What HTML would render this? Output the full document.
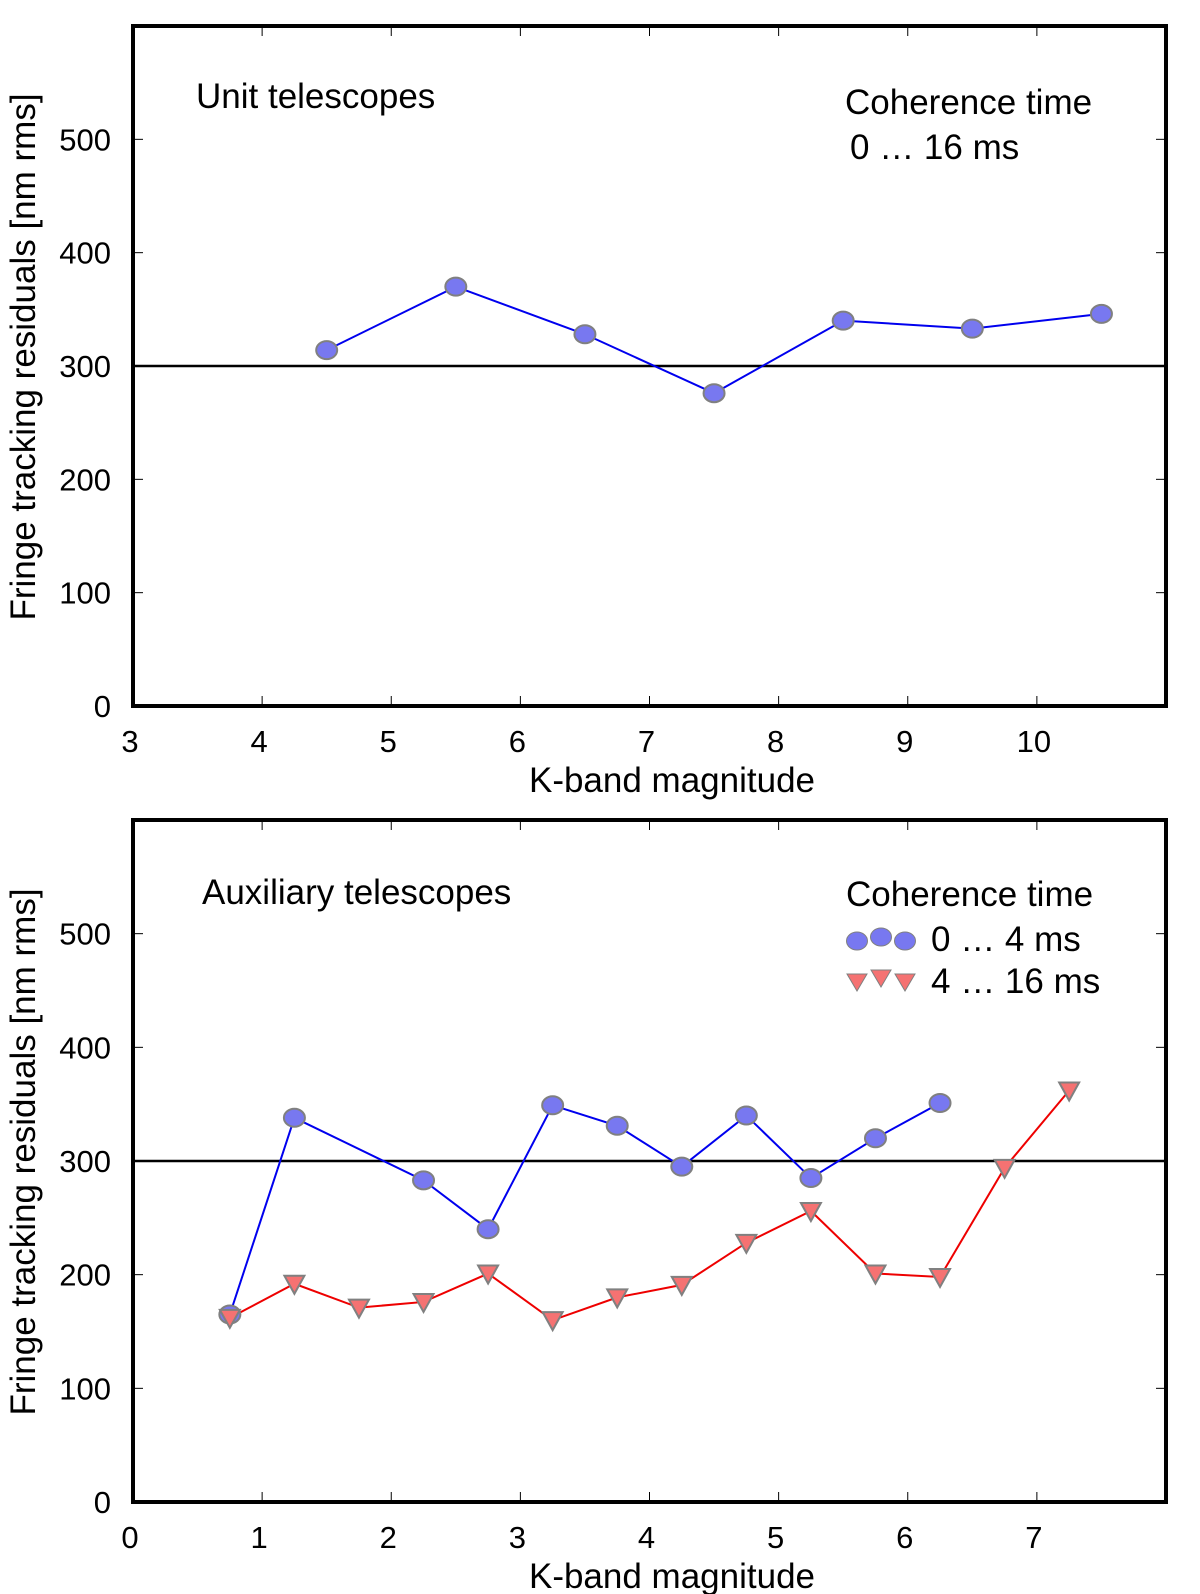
<!DOCTYPE html>
<html><head><meta charset="utf-8"><style>
html,body{margin:0;padding:0;background:#fff;}
svg{display:block;font-family:"Liberation Sans",Arial,sans-serif;}
</style></head><body>
<svg id="chart" width="1200" height="1594" viewBox="0 0 1200 1594" xmlns="http://www.w3.org/2000/svg"></svg>
<script>
// Top panel data (Unit telescopes)
const topMag = [4.5, 5.5, 6.5, 7.5, 8.5, 9.5, 10.5];
const topRes = [314, 370, 328, 276, 340, 333, 346];
const topXTicks = [3, 4, 5, 6, 7, 8, 9, 10];
// Bottom panel data (Auxiliary telescopes)
const blueMag = [0.75, 1.25, 2.25, 2.75, 3.25, 3.75, 4.25, 4.75, 5.25, 5.75, 6.25];
const blueRes = [165, 338, 283, 240, 349, 331, 295, 340, 285, 320, 351];
const redMag = [0.75, 1.25, 1.75, 2.25, 2.75, 3.25, 3.75, 4.25, 4.75, 5.25, 5.75, 6.25, 6.75, 7.25];
const redRes = [162, 192, 171, 176, 201, 160, 180, 191, 228, 256, 201, 198, 294, 362];
const botXTicks = [0, 1, 2, 3, 4, 5, 6, 7];
const yTicks = [0, 100, 200, 300, 400, 500];

const NS = "http://www.w3.org/2000/svg";
const svg = document.getElementById('chart');
function mk(tag, attrs, parent) {
  const e = document.createElementNS(NS, tag);
  for (const k in attrs) e.setAttribute(k, attrs[k]);
  (parent || svg).appendChild(e);
  return e;
}
const L = 133, R = 1166;
const FS = 35, TFS = 31;

function panel(name, top, bottom, xmin, xmax, xticks) {
  const g = mk('g', {});
  
  
  const sx = v => L + (v - xmin) / (xmax - xmin) * (R - L);
  const sy = v => bottom - v / 600 * (bottom - top);
  for (const t of xticks) {
    if (t === xmin) continue;
    const x = sx(t);
    const a = mk('line', {x1: x, y1: top, x2: x, y2: top + 10, stroke: '#000', 'stroke-width': 1}, g);
    
    
    const b = mk('line', {x1: x, y1: bottom, x2: x, y2: bottom - 10, stroke: '#000', 'stroke-width': 1}, g);
    
    
  }
  for (const t of xticks) {
    const tx = mk('text', {x: sx(t) - 3, y: bottom + 46, 'font-size': TFS, 'text-anchor': 'middle'}, g);
    tx.textContent = t;
    
    
  }
  for (const t of yTicks) {
    const y = sy(t);
    if (t > 0) {
      const a = mk('line', {x1: L, y1: y, x2: L + 10, y2: y, stroke: '#000', 'stroke-width': 1}, g);
      
      
      const b = mk('line', {x1: R, y1: y, x2: R - 10, y2: y, stroke: '#000', 'stroke-width': 1}, g);
      
      
    }
    const tx = mk('text', {x: 111, y: y + 11, 'font-size': TFS, 'text-anchor': 'end'}, g);
    tx.textContent = t;
    
    
  }
  const ref = mk('line', {x1: L, y1: sy(300), x2: R, y2: sy(300), stroke: '#000', 'stroke-width': 2.5}, g);
  
  
  const fr = mk('rect', {x: L, y: top, width: R - L, height: bottom - top, fill: 'none', stroke: '#000', 'stroke-width': 4}, g);
  
  
  const xt = mk('text', {x: 672, y: bottom + 86, 'font-size': FS, 'text-anchor': 'middle'}, g);
  xt.textContent = 'K-band magnitude';
  
  
  const cy = (top + bottom) / 2 - 9;
  const yt = mk('text', {x: 0, y: 0, 'font-size': FS, 'text-anchor': 'middle', transform: `translate(35,${cy}) rotate(-90)`}, g);
  yt.textContent = 'Fringe tracking residuals [nm rms]';
  
  
  return {g, sx, sy};
}

function series(p, xs, ys, color, name) {
  const pts = xs.map((x, i) => p.sx(x) + ',' + p.sy(ys[i])).join(' ');
  const pl = mk('polyline', {points: pts, fill: 'none', stroke: color, 'stroke-width': 2}, p.g);
  
  
}
function circles(p, xs, ys, name) {
  xs.forEach((x, i) => {
    const c = mk('ellipse', {cx: p.sx(x), cy: p.sy(ys[i]), rx: 10.5, ry: 9, fill: '#7878f0', stroke: '#808080', 'stroke-width': 2}, p.g);
    
    
  });
}
function tris(p, xs, ys, name) {
  xs.forEach((x, i) => {
    const cx = p.sx(x), cy = p.sy(ys[i]);
    const t = mk('polygon', {points: `${cx-10},${cy-8} ${cx+10},${cy-8} ${cx},${cy+10}`, fill: '#f57272', stroke: '#808080', 'stroke-width': 2}, p.g);
    
    
  });
}

const p1 = panel('unit-telescopes-panel', 26, 706, 3, 11, topXTicks);
series(p1, topMag, topRes, '#0000ee', 'unit-series');
circles(p1, topMag, topRes, 'unit-series');
let t;
t = mk('text', {x: 196, y: 108, 'font-size': FS}, p1.g); t.textContent = 'Unit telescopes';


t = mk('text', {x: 845, y: 114, 'font-size': FS}, p1.g); t.textContent = 'Coherence time';


t = mk('text', {x: 850, y: 159, 'font-size': FS}, p1.g); t.textContent = '0 … 16 ms';



const p2 = panel('auxiliary-telescopes-panel', 820, 1502, 0, 8, botXTicks);
series(p2, blueMag, blueRes, '#0000ee', 'short-coherence');
series(p2, redMag, redRes, '#ee0000', 'long-coherence');
circles(p2, blueMag, blueRes, 'short-coherence');
tris(p2, redMag, redRes, 'long-coherence');
t = mk('text', {x: 202, y: 904, 'font-size': FS}, p2.g); t.textContent = 'Auxiliary telescopes';


t = mk('text', {x: 846, y: 906, 'font-size': FS}, p2.g); t.textContent = 'Coherence time';


t = mk('text', {x: 931, y: 951, 'font-size': FS}, p2.g); t.textContent = '0 … 4 ms';


t = mk('text', {x: 931, y: 993, 'font-size': FS}, p2.g); t.textContent = '4 … 16 ms';


[857, 881, 905].forEach((cx, i) => {
  const c = mk('ellipse', {cx: cx, cy: i === 1 ? 937 : 941, rx: 10.5, ry: 9, fill: '#7878f0', stroke: '#808080', 'stroke-width': 1}, p2.g);
  
  
  const cy = i === 1 ? 978 : 982;
  const tr = mk('polygon', {points: `${cx-10},${cy-8} ${cx+10},${cy-8} ${cx},${cy+9}`, fill: '#f57272', stroke: '#808080', 'stroke-width': 1}, p2.g);
  
  
});
</script>
</body></html>
